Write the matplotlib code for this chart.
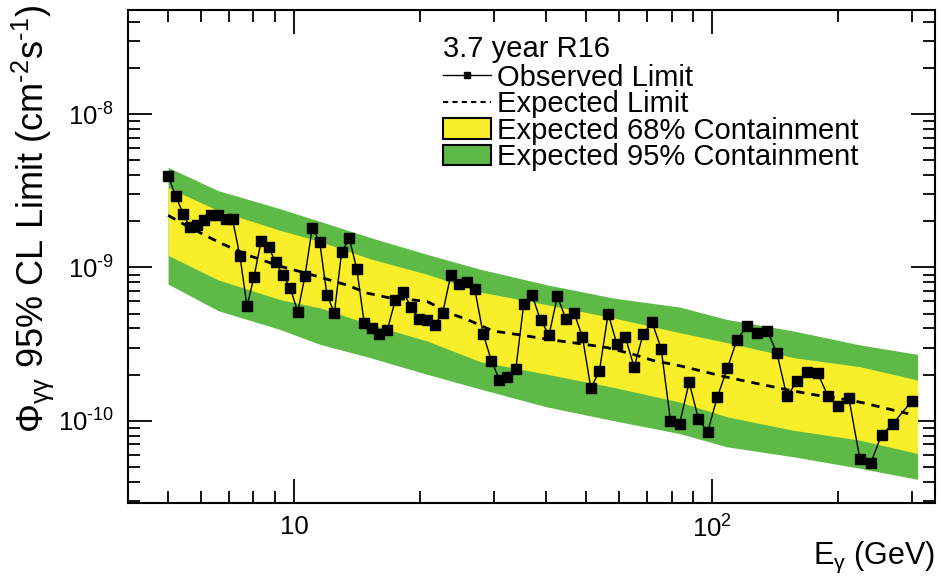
import matplotlib
matplotlib.use("Agg")
import matplotlib.pyplot as plt
from matplotlib.lines import Line2D
from matplotlib.patches import Patch
from matplotlib.ticker import LogLocator, NullFormatter

plt.rcParams['font.family'] = ['Liberation Sans', 'DejaVu Sans']
plt.rcParams['mathtext.fontset'] = 'custom'
plt.rcParams['mathtext.rm'] = 'Liberation Sans'
plt.rcParams['mathtext.it'] = 'Liberation Sans'
plt.rcParams['mathtext.bf'] = 'Liberation Sans:bold'

# Observed limit (cm^-2 s^-1, in units of 1e-10)
energy = [5.00, 5.21, 5.43, 5.64, 5.86, 6.09, 6.33, 6.58, 6.87, 7.13,
          7.43, 7.72, 8.02, 8.35, 8.70, 9.04, 9.41, 9.80, 10.21, 10.62,
          11.06, 11.52, 11.99, 12.49, 13.00, 13.56, 14.13, 14.73, 15.34, 16.00,
          16.72, 17.47, 18.23, 19.02, 19.88, 20.77, 21.71, 22.69, 23.71, 24.77,
          25.90, 27.06, 28.33, 29.65, 30.99, 32.38, 33.92, 35.44, 37.10, 38.88,
          40.74, 42.65, 44.67, 46.77, 48.95, 51.27, 53.76, 56.39, 59.16, 62.03,
          65.07, 68.37, 71.85, 75.51, 79.47, 83.53, 88.10, 92.73, 97.54, 102.9,
          108.7, 114.6, 121.3, 128.2, 135.4, 142.8, 150.9, 159.7, 169.0, 178.6,
          189.2, 200.2, 212.3, 225.6, 239.4, 254.1, 270.6, 299.9]
observed = [39.5, 29.5, 22.5, 18.3, 18.9, 20.4, 22.1, 22.1, 20.6, 20.6,
            11.8, 5.59, 8.61, 15.0, 13.6, 10.8, 8.95, 7.34, 5.13, 8.74,
            18.2, 14.7, 6.62, 5.06, 12.6, 15.5, 9.79, 4.31, 4.04, 3.70,
            3.92, 6.11, 6.95, 5.56, 4.64, 4.53, 4.21, 5.08, 8.95, 7.76,
            8.03, 7.23, 3.70, 2.46, 1.85, 1.92, 2.18, 5.81, 6.60, 4.51,
            3.64, 6.49, 4.62, 5.03, 3.52, 1.63, 2.12, 5.00, 3.17, 3.50,
            2.23, 3.68, 4.38, 2.95, 1.00, 0.951, 1.78, 1.02, 0.847, 1.43,
            2.20, 3.37, 4.17, 3.74, 3.87, 2.76, 1.44, 1.81, 2.07, 2.06,
            1.44, 1.24, 1.40, 0.558, 0.527, 0.810, 0.955, 1.34]

# Expected limit
exp_energy = [5.00, 5.58, 6.65, 7.85, 9.26, 11.10, 13.39, 14.95, 16.97, 19.26,
              20.80, 24.02, 25.93, 29.93, 34.73, 40.31, 48.33, 56.07, 64.71, 72.24,
              83.84, 108.6, 130.3, 147.9, 171.6, 202.4, 226.0, 294.4]
expected = [21.9, 18.5, 14.5, 11.9, 10.2, 8.92, 7.68, 6.81, 6.32, 6.14,
            6.00, 4.93, 4.58, 3.85, 3.63, 3.40, 3.18, 3.00, 2.71, 2.47,
            2.28, 1.92, 1.73, 1.61, 1.49, 1.39, 1.32, 1.11]

# Containment bands
band_energy = [5.00, 6.58, 9.26, 11.54, 15.20, 20.77, 27.86, 40.23, 58.06, 83.84,
               108.4, 156.5, 226.0, 309.8]
green_hi = [45.1, 31.8, 24.2, 20.0, 15.7, 12.2, 9.75, 7.71, 6.32, 5.51, 4.58, 3.85, 3.12, 2.71]
yellow_hi = [33.2, 23.6, 17.5, 14.8, 11.4, 9.05, 6.92, 5.72, 4.69, 3.75, 3.23, 2.58, 2.25, 1.84]
yellow_lo = [12.0, 8.31, 6.17, 5.45, 4.25, 3.32, 2.43, 2.01, 1.65, 1.32, 1.06, 0.865, 0.745, 0.610]
green_lo = [7.80, 5.23, 3.94, 3.15, 2.58, 2.01, 1.61, 1.23, 1.00, 0.822, 0.675, 0.581, 0.488, 0.414]

x_ticks = [10, 100]
x_ticklabels = ['10', r'$\mathregular{10^{2}}$']
y_ticks = [1e-10, 1e-9, 1e-8]
y_ticklabels = [r'$\mathregular{10^{‐10}}$', r'$\mathregular{10^{‐9}}$', r'$\mathregular{10^{‐8}}$']

UNIT = 1e-10
sc = lambda v: [x * UNIT for x in v]

GREEN = '#5dba47'
YELLOW = '#f9ee2a'
FS = 21
TFS = 18.5

W, H = 941, 579
fig = plt.figure(figsize=(W / 100, H / 100), dpi=100)
L, R, T, B = 128, 935, 10, 503
ax = fig.add_axes([L / W, 1 - B / H, (R - L) / W, (B - T) / H])

ax.fill_between(band_energy, sc(green_lo), sc(green_hi), color=GREEN, lw=0, zorder=1)
ax.fill_between(band_energy, sc(yellow_lo), sc(yellow_hi), color=YELLOW, lw=0, zorder=2)
ax.plot(exp_energy, sc(expected), color='black', lw=2.0, ls=(0, (3, 2.5)), zorder=3)
ax.plot(energy, sc(observed), color='black', lw=1.0, marker='s', ms=6.5, zorder=4)

ax.set_xscale('log')
ax.set_yscale('log')
ax.set_xlim(4.01, 341)
ax.set_ylim(2.9e-11, 4.8e-8)

ax.set_xticks(x_ticks, labels=x_ticklabels)
ax.set_yticks(y_ticks, labels=y_ticklabels)
ax.xaxis.set_minor_locator(LogLocator(base=10, subs=range(2, 10)))
ax.yaxis.set_minor_locator(LogLocator(base=10, subs=range(2, 10), numticks=20))
ax.xaxis.set_minor_formatter(NullFormatter())
ax.yaxis.set_minor_formatter(NullFormatter())

ax.tick_params(which='both', direction='in', top=True, right=True, width=1.3, labelsize=TFS)
ax.tick_params(which='major', length=17)
ax.tick_params(which='minor', length=8.5)
ax.tick_params(axis='x', which='major', pad=9)
ax.tick_params(axis='y', which='major', pad=10)
for s in ax.spines.values():
    s.set_linewidth(1.5)

ax.set_xlabel(r'E$_{\gamma}$ (GeV)', fontsize=22, loc='right')
ax.xaxis.set_label_coords(1.0, -0.074)
ax.set_ylabel(r'$\Phi_{\gamma\gamma}$ 95% CL Limit (cm$^{‐2}$s$^{‐1}$)', fontsize=26, loc='top')
ax.yaxis.set_label_coords(-0.089, 1.01)

handles = [Line2D([], [], color='black', lw=1.0, marker='s', ms=5),
           Line2D([], [], color='black', lw=1.5, ls=(0, (2.5, 2))),
           Patch(facecolor=YELLOW, edgecolor='black', lw=1.5),
           Patch(facecolor=GREEN, edgecolor='black', lw=1.5)]
labels = ['Observed Limit', 'Expected Limit', 'Expected 68% Containment', 'Expected 95% Containment']
leg = ax.legend(handles, labels, loc='upper left', bbox_to_anchor=(443 / W, 1 - 35 / H),
                bbox_transform=fig.transFigure, frameon=False, fontsize=FS,
                title='3.7 year R16', title_fontsize=FS, alignment='left',
                borderpad=0, borderaxespad=0, handlelength=1.64, handleheight=0.7,
                handletextpad=0.2, labelspacing=-0.05, numpoints=1)
leg._legend_box.sep = 0.5

fig.savefig('out.png', dpi=100)
